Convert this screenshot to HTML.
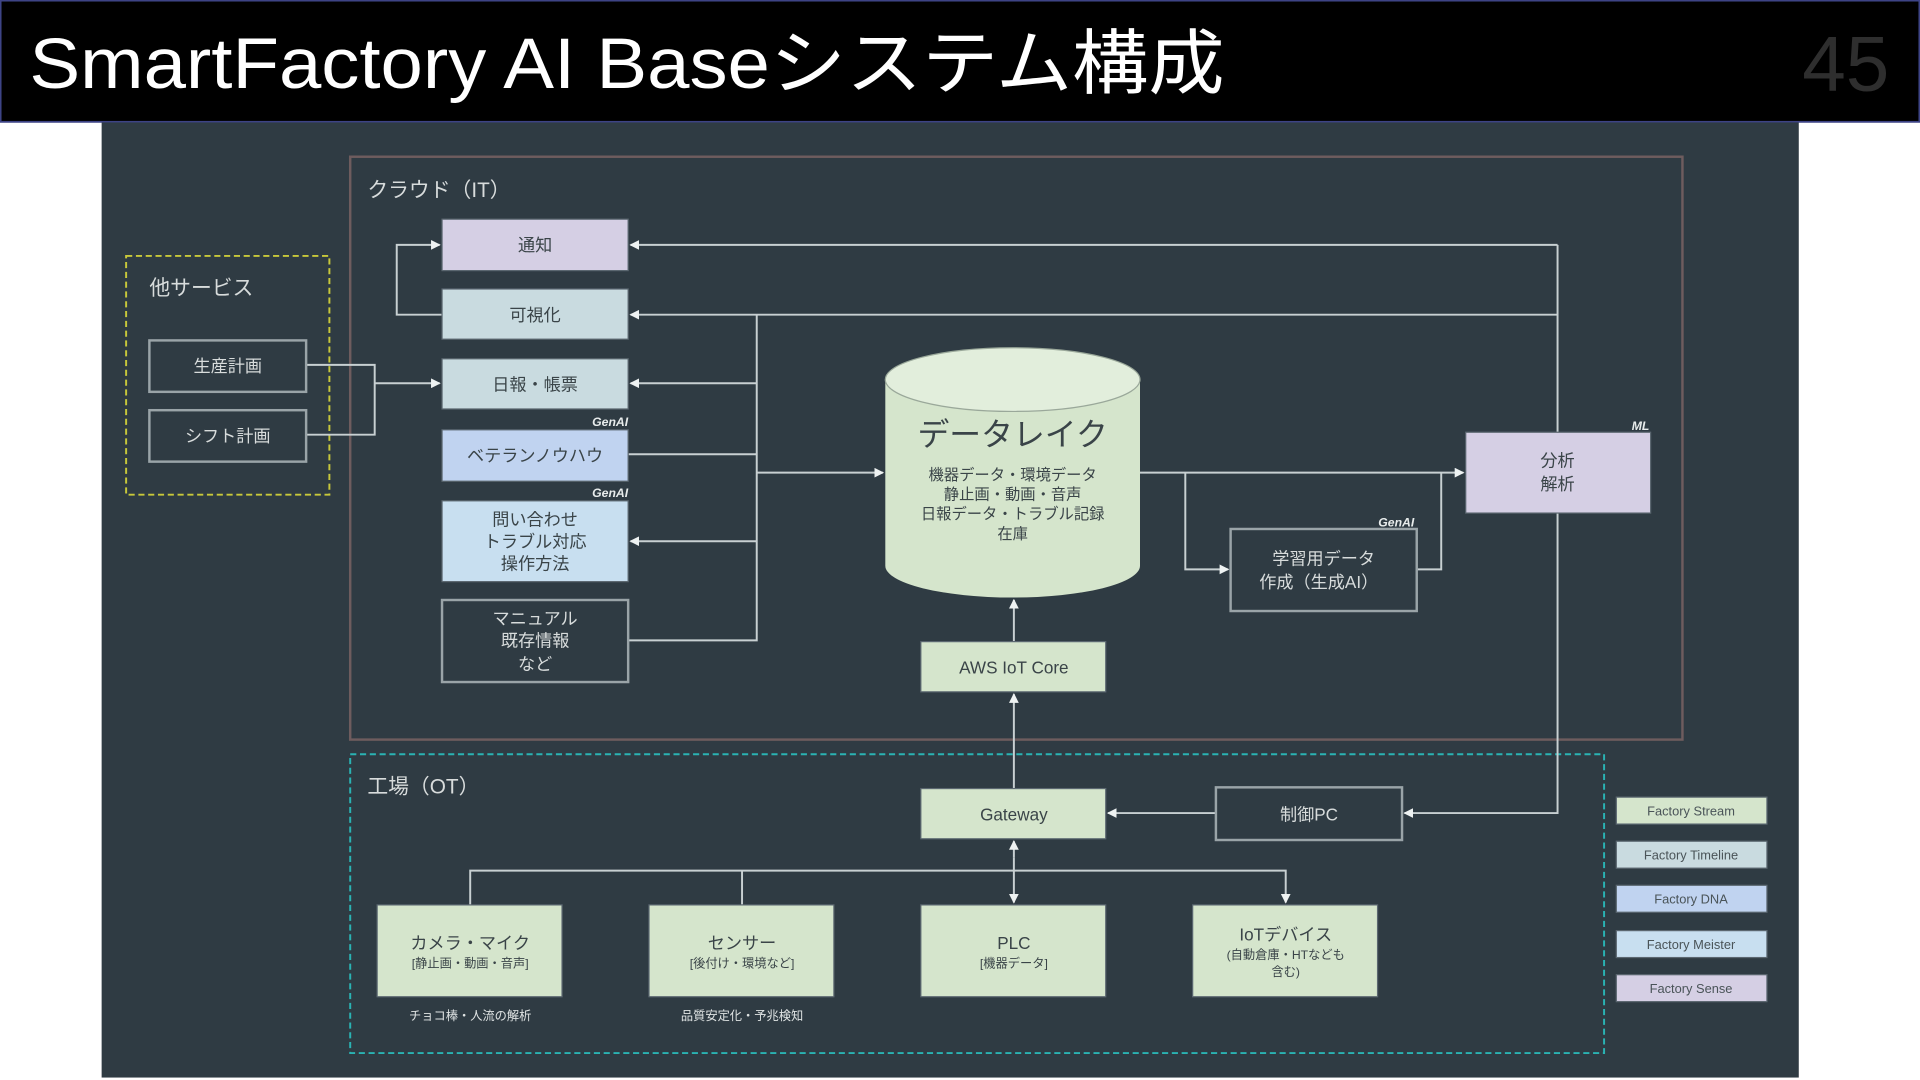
<!DOCTYPE html>
<html><head><meta charset="utf-8"><style>
html,body{margin:0;padding:0;background:#fff;width:1920px;height:1080px;overflow:hidden}
svg{display:block}
text{font-family:"Liberation Sans","Noto Sans CJK JP",sans-serif}
</style></head><body>
<svg width="1920" height="1080" viewBox="0 0 1568 882" xmlns="http://www.w3.org/2000/svg">
<defs>
<marker id="a" markerWidth="8" markerHeight="8" refX="7" refY="4" orient="auto" markerUnits="userSpaceOnUse"><path d="M0,0 L8,4 L0,8 z" fill="#eef2f2"/></marker>
</defs>
<rect x="0" y="0" width="1568" height="882" fill="#fff"/>
<rect x="0.5" y="0.5" width="1567" height="99" fill="#000" stroke="#3d4385" stroke-width="1.5"/>
<text x="24" y="72" font-size="58" fill="#fff" textLength="976" lengthAdjust="spacingAndGlyphs">SmartFactory AI Baseシステム構成</text>
<text x="1543" y="74" font-size="64" fill="#2e2e2e" text-anchor="end">45</text>
<rect x="83" y="100" width="1386" height="780" fill="#2f3b43"/>

<!-- zones -->
<rect x="286" y="128" width="1088" height="476" fill="none" stroke="#6e5c5e" stroke-width="2"/>
<text x="300" y="161" font-size="17" fill="#d8dcdc">クラウド（IT）</text>
<rect x="103" y="209" width="166" height="195" fill="none" stroke="#c8c83a" stroke-width="1.6" stroke-dasharray="5,3"/>
<text x="122" y="241" font-size="17" fill="#d8dcdc">他サービス</text>
<rect x="286" y="616" width="1024" height="244" fill="none" stroke="#2ab3b3" stroke-width="1.6" stroke-dasharray="5,3"/>
<text x="300" y="648" font-size="17" fill="#d8dcdc">工場（OT）</text>

<!-- connectors -->
<g stroke="#c8d0d2" stroke-width="1.6" fill="none">
<path d="M1272,200 H515" marker-end="url(#a)"/>
<path d="M1272,200 V664 H1147" marker-end="url(#a)"/>
<path d="M1272,257 H515" marker-end="url(#a)"/>
<path d="M618,257 V523 H513"/>
<path d="M618,313 H515" marker-end="url(#a)"/>
<path d="M513,371 H618"/>
<path d="M618,442 H515" marker-end="url(#a)"/>
<path d="M618,386 H721" marker-end="url(#a)"/>
<path d="M361,257 H324 V200 H359" marker-end="url(#a)"/>
<path d="M250,298 H306 V355 H250"/>
<path d="M306,313 H359" marker-end="url(#a)"/>
<path d="M931,386 H1195" marker-end="url(#a)"/>
<path d="M968,386 V465 H1003" marker-end="url(#a)"/>
<path d="M1157,465 H1177 V386"/>
<path d="M828,524 V490" marker-end="url(#a)"/>
<path d="M828,644 V567" marker-end="url(#a)"/>
<path d="M993,664 H905" marker-end="url(#a)"/>
<path d="M828,700 V687" marker-end="url(#a)"/>
<path d="M828,700 V737" marker-end="url(#a)"/>
<path d="M384,739 V711 H1050 V737" marker-end="url(#a)"/>
<path d="M606,711 V739"/>
</g>

<!-- cloud boxes -->
<g font-size="14" text-anchor="middle" fill="#3a4448">
<rect x="361" y="179" width="152" height="42" fill="#d5cfe4" stroke="#5b6770" stroke-width="1"/>
<text x="437" y="205">通知</text>
<rect x="361" y="236" width="152" height="41" fill="#c9dbe0" stroke="#5b6770" stroke-width="1"/>
<text x="437" y="262">可視化</text>
<rect x="361" y="293" width="152" height="41" fill="#c9dbe0" stroke="#5b6770" stroke-width="1"/>
<text x="437" y="319">日報・帳票</text>
<rect x="361" y="351" width="152" height="42" fill="#c0d3f0" stroke="#5b6770" stroke-width="1"/>
<text x="437" y="377">ベテランノウハウ</text>
<rect x="361" y="409" width="152" height="66" fill="#c8dff0" stroke="#5b6770" stroke-width="1"/>
<text x="437" y="429">問い合わせ</text>
<text x="437" y="447">トラブル対応</text>
<text x="437" y="465">操作方法</text>
</g>
<g font-size="14" text-anchor="middle" fill="#d8dcdc">
<rect x="361" y="490" width="152" height="67" fill="#2f3b43" stroke="#9aa4a8" stroke-width="2"/>
<text x="437" y="510">マニュアル</text>
<text x="437" y="528">既存情報</text>
<text x="437" y="547">など</text>
<rect x="122" y="278" width="128" height="42" fill="#2f3b43" stroke="#9aa4a8" stroke-width="2"/>
<text x="186" y="304">生産計画</text>
<rect x="122" y="335" width="128" height="42" fill="#2f3b43" stroke="#9aa4a8" stroke-width="2"/>
<text x="186" y="361">シフト計画</text>
<rect x="1005" y="432" width="152" height="67" fill="#2f3b43" stroke="#9aa4a8" stroke-width="2"/>
<text x="1081" y="461">学習用データ</text>
<text x="1077" y="480">作成（生成AI）</text>
<rect x="993" y="643" width="152" height="43" fill="#2f3b43" stroke="#9aa4a8" stroke-width="2"/>
<text x="1069" y="670">制御PC</text>
</g>
<g font-size="10" font-style="italic" font-weight="bold" fill="#e8ecec" text-anchor="end">
<text x="513" y="348">GenAI</text>
<text x="513" y="406">GenAI</text>
<text x="1155" y="430">GenAI</text>
<text x="1347" y="351">ML</text>
</g>

<!-- data lake -->
<path d="M723,310 V462 A104,26 0 0 0 931,462 V310 Z" fill="#d5e5cc"/>
<ellipse cx="827" cy="310" rx="104" ry="26" fill="#e2eedc" stroke="#9aa89a" stroke-width="1"/>
<text x="827" y="364" font-size="26" text-anchor="middle" fill="#3a4448">データレイク</text>
<g font-size="12.5" text-anchor="middle" fill="#3a4448">
<text x="827" y="392">機器データ・環境データ</text>
<text x="827" y="408">静止画・動画・音声</text>
<text x="827" y="424">日報データ・トラブル記録</text>
<text x="827" y="440">在庫</text>
</g>

<!-- analysis -->
<rect x="1197" y="353" width="151" height="66" fill="#d5cfe4" stroke="#5b6770" stroke-width="1"/>
<g font-size="14" text-anchor="middle" fill="#3a4448">
<text x="1272" y="381">分析</text>
<text x="1272" y="400">解析</text>
</g>

<!-- green boxes -->
<g fill="#d5e5cc" stroke="#5b6770" stroke-width="1">
<rect x="752" y="524" width="151" height="41"/>
<rect x="752" y="644" width="151" height="41"/>
<rect x="308" y="739" width="151" height="75"/>
<rect x="530" y="739" width="151" height="75"/>
<rect x="752" y="739" width="151" height="75"/>
<rect x="974" y="739" width="151" height="75"/>
</g>
<g text-anchor="middle" fill="#3a4448">
<text x="828" y="550" font-size="14">AWS IoT Core</text>
<text x="828" y="670" font-size="14">Gateway</text>
<text x="384" y="775" font-size="14">カメラ・マイク</text>
<text x="384" y="790" font-size="10">[静止画・動画・音声]</text>
<text x="606" y="775" font-size="14">センサー</text>
<text x="606" y="790" font-size="10">[後付け・環境など]</text>
<text x="828" y="775" font-size="14">PLC</text>
<text x="828" y="790" font-size="10">[機器データ]</text>
<text x="1050" y="768" font-size="14">IoTデバイス</text>
<text x="1050" y="783" font-size="10">(自動倉庫・HTなども</text>
<text x="1050" y="797" font-size="10">含む)</text>
</g>
<g text-anchor="middle" fill="#e0e4e4" font-size="10">
<text x="384" y="833">チョコ棒・人流の解析</text>
<text x="606" y="833">品質安定化・予兆検知</text>
</g>

<!-- legend -->
<g stroke="#5b6770" stroke-width="1">
<rect x="1320" y="651" width="123" height="22" fill="#d5e5cc"/>
<rect x="1320" y="687" width="123" height="22" fill="#c9dbe0"/>
<rect x="1320" y="723" width="123" height="22" fill="#c0d3f0"/>
<rect x="1320" y="760" width="123" height="22" fill="#c8dff0"/>
<rect x="1320" y="796" width="123" height="22" fill="#d5cfe4"/>
</g>
<g font-size="10.5" text-anchor="middle" fill="#4a5458">
<text x="1381" y="666">Factory Stream</text>
<text x="1381" y="702">Factory Timeline</text>
<text x="1381" y="738">Factory DNA</text>
<text x="1381" y="775">Factory Meister</text>
<text x="1381" y="811">Factory Sense</text>
</g>
</svg>
</body></html>
